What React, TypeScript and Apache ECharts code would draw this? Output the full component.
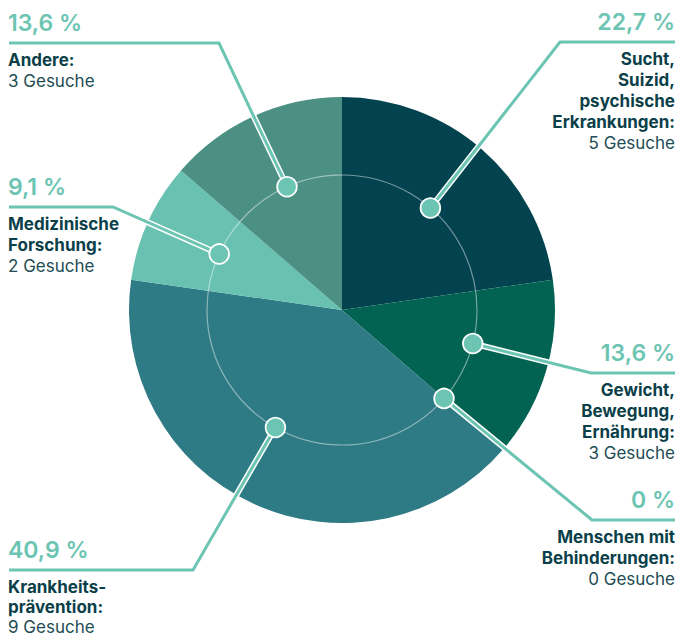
import React, { useEffect, useRef } from "react";
import * as echarts from "echarts";

const categories = [
  ["Sucht,", "Suizid,", "psychische", "Erkrankungen:"],
  ["Gewicht,", "Bewegung,", "Ernährung:"],
  ["Menschen mit", "Behinderungen:"],
  ["Krankheits-", "prävention:"],
  ["Medizinische", "Forschung:"],
  ["Andere:"],
];
const requests = [5, 3, 0, 9, 2, 3];
const sliceColors = ["#03434f", "#026352", "#03434f", "#2e7b85", "#69c1b1", "#4c9083"];

// label layout: corner of leader line, line end x, side, dot angle shift, text line step
const layout = [
  { cx: 560, cy: 42, ex: 675, side: "right", shift: 0, step: 21 },
  { cx: 591, cy: 373, ex: 675, side: "right", shift: -2, step: 21 },
  { cx: 592, cy: 520, ex: 675, side: "right", shift: 0, step: 21 },
  { cx: 193, cy: 570, ex: 9, side: "left", shift: 5, step: 20 },
  { cx: 113, cy: 207, ex: 9, side: "left", shift: 0, step: 21 },
  { cx: 219, cy: 43, ex: 9, side: "left", shift: 0.5, step: 21 },
];

const CX = 342;
const CY = 310;
const R = 213;
const RIN = 135;
const TEAL = "#6cc4b2";
const DARK = "#0b3f4a";
const FONT = "Inter, Roboto, sans-serif";

export default function App() {
  const ref = useRef<HTMLDivElement>(null);
  useEffect(() => {
    document.body.style.margin = "0";
    const chart = echarts.init(ref.current!, null, { renderer: "svg" });
    const total = requests.reduce((a, b) => a + b, 0);
    let acc = 0;
    const lines: any[] = [];
    const dots: any[] = [];
    const texts: any[] = [];
    requests.forEach((v, i) => {
      const a0 = (acc / total) * 360;
      acc += v;
      const a1 = (acc / total) * 360;
      const L = layout[i];
      const mid = ((a0 + a1) / 2 + L.shift) * Math.PI / 180;
      const dx = CX + RIN * Math.sin(mid);
      const dy = CY - RIN * Math.cos(mid);
      const pts = [[dx, dy], [L.cx, L.cy], [L.ex, L.cy]];
      lines.push({ type: "polyline", z: 10, shape: { points: pts }, style: { stroke: "#ffffff", lineWidth: 6, fill: null, lineJoin: "miter" } });
      lines.push({ type: "polyline", z: 11, shape: { points: pts }, style: { stroke: TEAL, lineWidth: 3, fill: null, lineJoin: "miter" } });
      dots.push({ type: "circle", z: 12, shape: { cx: dx, cy: dy, r: 9.8 }, style: { fill: TEAL, stroke: "#ffffff", lineWidth: 1.8 } });
      const pct = ((v / total) * 100).toFixed(v === 0 ? 0 : 1).replace(".", ",") + " %";
      const align = L.side === "right" ? "right" : "left";
      const tx = L.side === "right" ? L.ex : L.ex - 1;
      texts.push({ type: "text", z: 13, x: tx, y: L.cy - 20, style: { text: pct, fill: TEAL, font: `600 23px ${FONT}`, textAlign: align, textVerticalAlign: "middle" } });
      const ls = categories[i];
      ls.forEach((t, j) => {
        texts.push({ type: "text", z: 13, x: tx, y: L.cy + 17 + j * L.step, style: { text: t, fill: DARK, font: `700 17px ${FONT}`, textAlign: align, textVerticalAlign: "middle" } });
      });
      texts.push({ type: "text", z: 13, x: tx, y: L.cy + 17 + ls.length * L.step, style: { text: `${v} Gesuche`, fill: "#1e4d55", font: `400 17px ${FONT}`, textAlign: align, textVerticalAlign: "middle" } });
    });
    const graphics: any[] = [
      { type: "circle", z: 5, shape: { cx: CX, cy: CY, r: RIN }, style: { fill: null, stroke: "rgba(255,255,255,0.45)", lineWidth: 1.2 } },
      ...lines,
      ...dots,
      ...texts,
    ];
    chart.setOption({
      animation: false,
      series: [
        {
          type: "pie",
          center: [CX, CY],
          radius: [0, R],
          startAngle: 90,
          clockwise: true,
          label: { show: false },
          labelLine: { show: false },
          emphasis: { disabled: true },
          itemStyle: { borderWidth: 0 },
          data: requests.map((v, i) => ({ value: v, name: categories[i].join(" "), itemStyle: { color: sliceColors[i] } })),
        },
      ],
      graphic: graphics,
    });
    return () => chart.dispose();
  }, []);
  return <div ref={ref} style={{ width: 681, height: 637 }} />;
}
